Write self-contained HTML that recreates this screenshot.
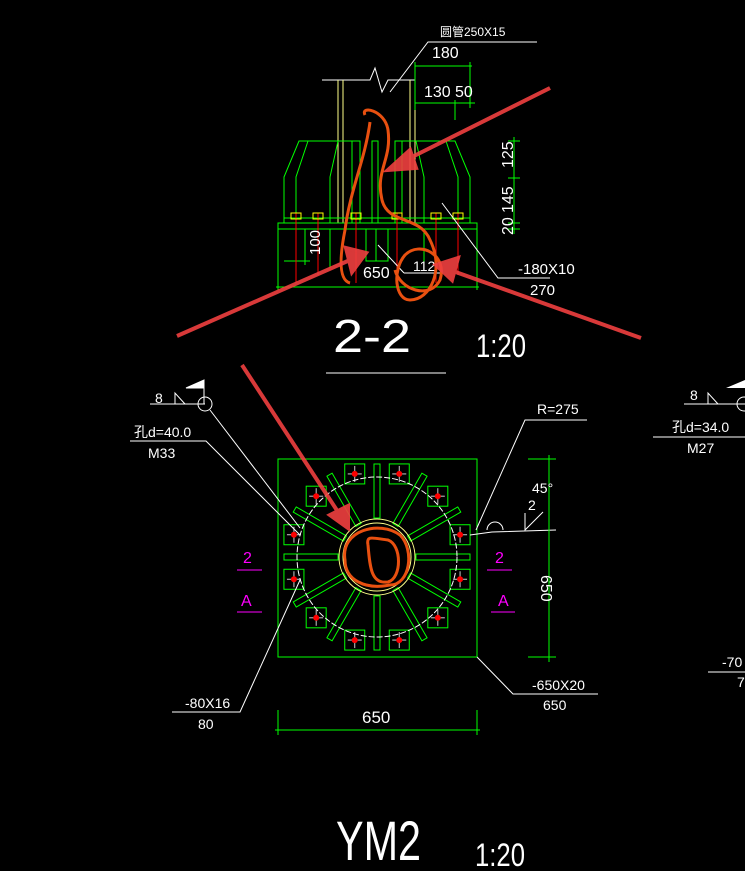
<!DOCTYPE html>
<html><head><meta charset="utf-8"><style>
html,body{margin:0;padding:0;background:#000;}
svg{display:block}
text{font-family:"Liberation Sans","Noto Sans CJK SC",sans-serif;fill:#fff;}
</style></head><body>
<svg id="s" width="745" height="871" viewBox="0 0 745 871" xmlns="http://www.w3.org/2000/svg">
<rect width="745" height="871" fill="#000"/>
<g fill="none" stroke-width="1">
<polyline points="322,80 370,80 375,68 382,92 388,80 415,80" stroke="#fff"/>
<line x1="338" y1="80" x2="338" y2="223" stroke="#ff8"/>
<line x1="343" y1="80" x2="343" y2="223" stroke="#ff8"/>
<line x1="410" y1="80" x2="410" y2="223" stroke="#ff8"/>
<line x1="415" y1="80" x2="415" y2="223" stroke="#ff8"/>
<polyline points="390,92 428,42 537,42" stroke="#fff"/>
<line x1="415" y1="66" x2="472" y2="66" stroke="#0f0"/>
<line x1="415" y1="103" x2="475" y2="103" stroke="#0f0"/>
<line x1="415" y1="62" x2="415" y2="110" stroke="#0f0"/>
<line x1="455" y1="100" x2="455" y2="120" stroke="#0f0"/>
<line x1="470" y1="62" x2="470" y2="108" stroke="#0f0"/>
<polyline points="284,223 284,177 299,141 360,141 360,223" stroke="#0f0"/>
<polyline points="296,223 296,177 308,141" stroke="#0f0"/>
<polyline points="330,223 330,177 338,141" stroke="#0f0"/>
<line x1="352" y1="141" x2="352" y2="223" stroke="#0f0"/>
<polyline points="470,223 470,177 455,141 395,141 395,223" stroke="#0f0"/>
<polyline points="458,223 458,177 446,141" stroke="#0f0"/>
<polyline points="424,223 424,177 416,141" stroke="#0f0"/>
<line x1="402" y1="141" x2="402" y2="223" stroke="#0f0"/>
<rect x="372" y="141" width="6" height="82" stroke="#0f0"/>
<rect x="278" y="223" width="199" height="6" stroke="#0f0"/>
<line x1="284" y1="218" x2="470" y2="218" stroke="#0f0"/>
<rect x="366" y="229" width="22" height="32" stroke="#0f0"/>
<line x1="376" y1="229" x2="376" y2="261" stroke="#0f0"/>
<line x1="330" y1="229" x2="330" y2="268" stroke="#0f0"/>
<line x1="424" y1="229" x2="424" y2="268" stroke="#0f0"/>
<line x1="278" y1="229" x2="278" y2="290" stroke="#0f0"/>
<line x1="477" y1="229" x2="477" y2="290" stroke="#0f0"/>
<line x1="276" y1="287" x2="479" y2="287" stroke="#0f0"/>
<line x1="284" y1="261" x2="310" y2="261" stroke="#0f0"/>
<line x1="305" y1="229" x2="305" y2="265" stroke="#0f0"/>
<g stroke="#f00"><line x1="296" y1="213" x2="296" y2="283"/><line x1="318" y1="213" x2="318" y2="275"/><line x1="356" y1="213" x2="356" y2="283"/><line x1="397" y1="213" x2="397" y2="283"/><line x1="436" y1="213" x2="436" y2="283"/><line x1="458" y1="213" x2="458" y2="275"/></g>
<g stroke="#ff0"><rect x="291" y="213" width="10" height="6"/><rect x="313" y="213" width="10" height="6"/><rect x="351" y="213" width="10" height="6"/><rect x="392" y="213" width="10" height="6"/><rect x="431" y="213" width="10" height="6"/><rect x="453" y="213" width="10" height="6"/></g>
<line x1="514" y1="137" x2="514" y2="234" stroke="#0f0"/>
<line x1="508" y1="141" x2="520" y2="141" stroke="#0f0"/>
<line x1="508" y1="178" x2="520" y2="178" stroke="#0f0"/>
<line x1="508" y1="223" x2="520" y2="223" stroke="#0f0"/>
<line x1="508" y1="229" x2="520" y2="229" stroke="#0f0"/>
<polyline points="442,203 498,278 550,278" stroke="#fff"/>
<line x1="378" y1="245" x2="404" y2="273" stroke="#fff"/>
<line x1="404" y1="273" x2="440" y2="273" stroke="#fff"/>
<line x1="326" y1="373" x2="446" y2="373" stroke="#fff"/>

<rect x="278" y="459" width="199" height="198" stroke="#0f0"/>
<g id="plan"></g>
<circle cx="377" cy="557" r="80" stroke="#fff" stroke-dasharray="6,2"/>
<circle cx="377" cy="557" r="38" stroke="#ff8"/>
<circle cx="377" cy="557" r="34" stroke="#ff8"/>
<polyline points="150,404 205,404" stroke="#fff"/>
<circle cx="205" cy="404" r="7" stroke="#fff"/>
<polyline points="175,404 175,393 185,404" stroke="#fff"/>
<polygon points="186,388 204,380 204,388" fill="#fff" stroke="#fff"/>
<line x1="204" y1="380" x2="204" y2="404" stroke="#fff"/>
<line x1="210" y1="410" x2="300" y2="528" stroke="#fff"/>
<polyline points="130,441 206,441 300,535" stroke="#fff"/>
<polyline points="172,712 240,712 300,580" stroke="#fff"/>
<polyline points="476,530 525,420 587,420" stroke="#fff"/>
<polyline points="470,535 492,532 556,530" stroke="#fff"/>
<path d="M487,530 a8,8 0 0 1 16,0" stroke="#fff"/>
<polyline points="525,513 525,530 543,512" stroke="#fff"/>
<polyline points="477,657 513,694 598,694" stroke="#fff"/>
<line x1="549" y1="455" x2="549" y2="662" stroke="#0f0"/>
<line x1="528" y1="459" x2="556" y2="459" stroke="#0f0"/>
<line x1="528" y1="657" x2="556" y2="657" stroke="#0f0"/>
<line x1="275" y1="730" x2="480" y2="730" stroke="#0f0"/>
<line x1="278" y1="710" x2="278" y2="735" stroke="#0f0"/>
<line x1="477" y1="710" x2="477" y2="735" stroke="#0f0"/>
<line x1="237" y1="570" x2="262" y2="570" stroke="#f0f"/>
<line x1="237" y1="612" x2="262" y2="612" stroke="#f0f"/>
<line x1="487" y1="570" x2="512" y2="570" stroke="#f0f"/>
<line x1="491" y1="612" x2="515" y2="612" stroke="#f0f"/>
<polyline points="684,404 745,404" stroke="#fff"/>
<circle cx="744" cy="404" r="7" stroke="#fff"/>
<polyline points="708,404 708,393 718,404" stroke="#fff"/>
<polygon points="726,388 745,380 745,388" fill="#fff"/>
<line x1="653" y1="437" x2="745" y2="437" stroke="#fff"/>
<line x1="708" y1="672" x2="745" y2="672" stroke="#fff"/>
</g>

<g font-size="13">
<text x="440" y="36" font-size="12">圆管250X15</text>
<text x="432" y="58" font-size="16">180</text>
<text x="424" y="97" font-size="16">130</text>
<text x="455" y="97" font-size="16">50</text>
<text transform="translate(513,168) rotate(-90)" font-size="16">125</text>
<text transform="translate(513,213) rotate(-90)" font-size="16">145</text>
<text transform="translate(513,235) rotate(-90)" font-size="16">20</text>
<text transform="translate(320,255) rotate(-90)" font-size="15">100</text>
<text x="363" y="278" font-size="16">650</text>
<text x="413" y="271" font-size="14">112</text>
<text x="518" y="274" font-size="15">-180X10</text>
<text x="530" y="295" font-size="15">270</text>
<text x="333" y="352" font-size="46" textLength="78" lengthAdjust="spacingAndGlyphs">2-2</text>
<text x="476" y="357" font-size="32" textLength="50" lengthAdjust="spacingAndGlyphs">1:20</text>
<text x="155" y="403" font-size="14">8</text>
<text x="134" y="437" font-size="14">孔d=40.0</text>
<text x="148" y="458" font-size="14">M33</text>
<text x="690" y="400" font-size="14">8</text>
<text x="672" y="432" font-size="14">孔d=34.0</text>
<text x="687" y="453" font-size="14">M27</text>
<text x="537" y="414" font-size="14">R=275</text>
<text x="532" y="493" font-size="14">45°</text>
<text x="528" y="510" font-size="14">2</text>
<text transform="translate(541,575) rotate(90)" font-size="16">650</text>
<text x="243" y="563" font-size="16" style="fill:#f0f">2</text>
<text x="241" y="606" font-size="16" style="fill:#f0f">A</text>
<text x="495" y="563" font-size="16" style="fill:#f0f">2</text>
<text x="498" y="606" font-size="16" style="fill:#f0f">A</text>
<text x="362" y="723" font-size="17">650</text>
<text x="185" y="708" font-size="14">-80X16</text>
<text x="198" y="729" font-size="14">80</text>
<text x="532" y="690" font-size="14">-650X20</text>
<text x="543" y="710" font-size="14">650</text>
<text x="722" y="667" font-size="14">-70</text>
<text x="737" y="687" font-size="14">70</text>
<text x="336" y="860" font-size="56" textLength="85" lengthAdjust="spacingAndGlyphs">YM2</text>
<text x="475" y="866" font-size="32" textLength="50" lengthAdjust="spacingAndGlyphs">1:20</text>
</g>

<g fill="none" stroke="#e85010" stroke-width="3">
<path d="M365,115 C360,105 385,110 388,130 C392,160 375,170 382,200 C388,225 420,215 430,240 C445,270 430,300 410,300 C395,300 392,270 405,255 C420,240 448,255 440,280 C430,300 400,290 395,270"/>
<path d="M370,122 C365,160 350,190 345,230 C340,255 338,280 350,283"/>
<path d="M345,560 C340,530 380,520 400,535 C415,550 410,585 390,585 C365,590 345,580 345,560 Z"/>
<path d="M368,545 C366,535 372,538 388,540 C402,545 402,578 388,582 C372,584 370,570 368,545"/>
</g>
<g stroke="#f04040" stroke-width="4" fill="#f04040" opacity="0.9">
<line x1="550" y1="88" x2="400" y2="163"/><polygon points="388,170 410,150 416,168"/>
<line x1="177" y1="336" x2="350" y2="260"/><polygon points="366,253 346,248 352,272"/>
<line x1="641" y1="338" x2="450" y2="270"/><polygon points="436,265 458,258 452,280"/>
<line x1="242" y1="365" x2="340" y2="515"/><polygon points="348,528 330,515 348,506"/>
</g>
</svg>
<script>
var g=document.getElementById('plan'),N='http://www.w3.org/2000/svg',cx=377,cy=557;
function el(t,a){var e=document.createElementNS(N,t);for(var k in a)e.setAttribute(k,a[k]);g.appendChild(e);return e;}
for(var i=0;i<12;i++){
 var len=(i%3==0)?54:58, st=(i%3==0)?42:40;
 el('rect',{x:-3,y:-3,width:len,height:6,stroke:'#0f0',fill:'none',transform:'translate('+cx+','+cy+') rotate('+(i*30)+') translate('+st+',0)'});
 var b=(15+i*30)*Math.PI/180,bx=cx+86*Math.cos(b),by=cy+86*Math.sin(b);
 el('rect',{x:bx-10,y:by-10,width:20,height:20,stroke:'#0f0',fill:'none'});
 el('line',{x1:bx-7,y1:by,x2:bx+7,y2:by,stroke:'#ccc'});
 el('line',{x1:bx,y1:by-8,x2:bx,y2:by+8,stroke:'#ccc'});
 el('circle',{cx:bx,cy:by,r:3,fill:'#f00'});
}
</script>
</body></html>
